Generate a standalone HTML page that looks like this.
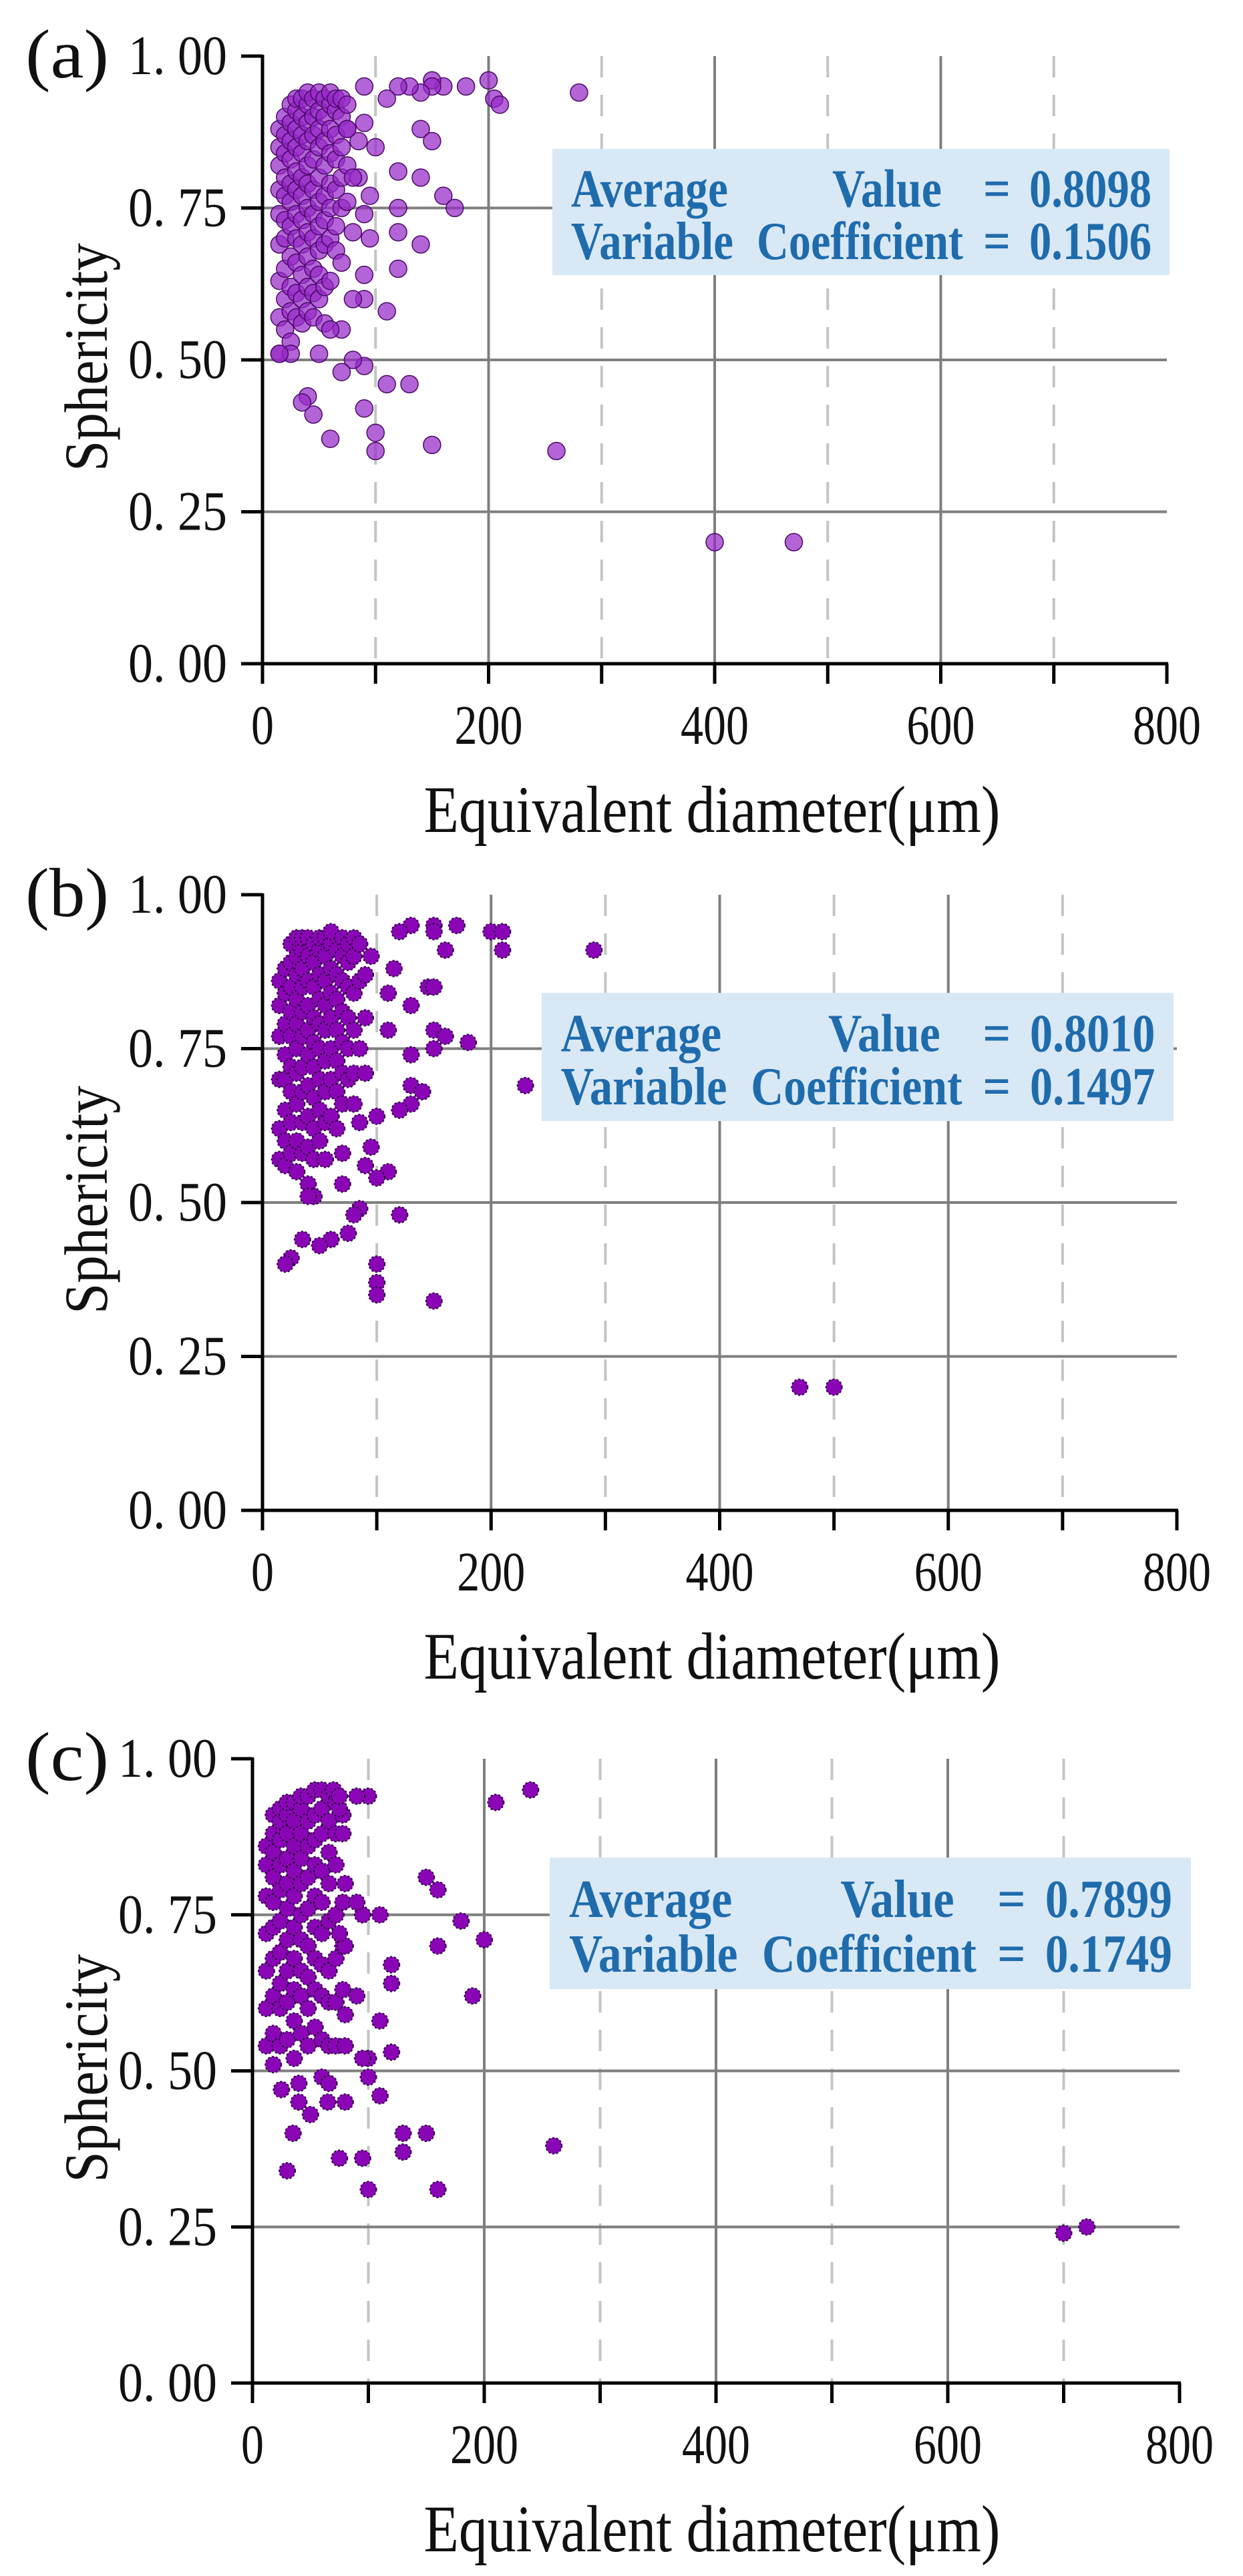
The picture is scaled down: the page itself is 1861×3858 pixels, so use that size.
<!DOCTYPE html>
<html><head><meta charset="utf-8"><title>Sphericity vs Equivalent diameter</title>
<style>html,body{margin:0;padding:0;background:#fff}svg{display:block}</style></head>
<body>
<svg id="fig" xmlns="http://www.w3.org/2000/svg" width="1861" height="3858" viewBox="0 0 1861 3858">
<rect width="1861" height="3858" fill="#fff"/>
</svg>
<script>
// ---------- data ----------
const xTicks = [0, 200, 400, 600, 800];
const xMinor = [100, 300, 500, 700];
const yTicks = [0, 0.25, 0.5, 0.75, 1.0];
const yTickLabels = ["0. 00", "0. 25", "0. 50", "0. 75", "1. 00"];
const panelLetters = ["(a)", "(b)", "(c)"];
const avgValues = ["0.8098", "0.8010", "0.7899"];
const cvValues = ["0.1506", "0.1497", "0.1749"];

const clusterXA = [15,20,25,30,35,40,45,50,55,60,65,70,75];
const clusterYA = [
 [0.51,0.57,0.63,0.69,0.74,0.78,0.82,0.85,0.88],
 [0.55,0.60,0.65,0.70,0.73,0.77,0.80,0.84,0.87,0.90],
 [0.53,0.58,0.62,0.67,0.72,0.76,0.79,0.83,0.86,0.89,0.92],
 [0.57,0.61,0.66,0.70,0.74,0.78,0.81,0.85,0.88,0.91,0.93],
 [0.56,0.60,0.64,0.69,0.73,0.77,0.80,0.84,0.87,0.90,0.93],
 [0.58,0.62,0.67,0.71,0.75,0.79,0.82,0.86,0.89,0.92,0.94],
 [0.57,0.61,0.65,0.70,0.74,0.78,0.83,0.87,0.90,0.93],
 [0.60,0.64,0.68,0.72,0.76,0.80,0.85,0.88,0.91,0.94],
 [0.56,0.62,0.69,0.73,0.77,0.82,0.86,0.90,0.93],
 [0.63,0.70,0.75,0.79,0.84,0.88,0.92,0.94],
 [0.68,0.72,0.78,0.83,0.87,0.91,0.93],
 [0.75,0.80,0.85,0.90,0.93],
 [0.82,0.88,0.92]
];
const outXA = [280,260,400,470,200,205,210,180,160,150,150,140,130,120,110,90,140,150,100,120,140,160,170,120,120,140,120,110,110,130,90,100,100,150,60,45,40,35,90,80,70,50,25,15,90,80,90,70,60,70,90,85,80,95,95,80,75,85,75,90];
const outYA = [0.94,0.35,0.20,0.20,0.96,0.93,0.92,0.95,0.95,0.96,0.95,0.94,0.95,0.95,0.93,0.95,0.88,0.86,0.85,0.81,0.80,0.77,0.75,0.75,0.71,0.69,0.65,0.58,0.46,0.46,0.42,0.38,0.35,0.36,0.37,0.41,0.44,0.43,0.49,0.50,0.48,0.51,0.51,0.51,0.60,0.60,0.64,0.55,0.55,0.66,0.74,0.80,0.80,0.77,0.70,0.71,0.76,0.86,0.88,0.89];

const clusterXB = [15,20,25,30,35,40,45,50,55,60,65,70,75,80,85];
const clusterYB = [
 [0.57,0.62,0.70,0.77,0.82,0.86],
 [0.56,0.60,0.65,0.70,0.74,0.79,0.84,0.88],
 [0.58,0.63,0.68,0.72,0.77,0.81,0.85,0.89,0.92],
 [0.55,0.60,0.66,0.71,0.75,0.79,0.83,0.87,0.90,0.93],
 [0.58,0.63,0.68,0.72,0.77,0.81,0.85,0.88,0.91,0.93],
 [0.53,0.59,0.64,0.69,0.74,0.78,0.82,0.86,0.90,0.93],
 [0.51,0.57,0.62,0.67,0.72,0.76,0.80,0.85,0.89,0.92],
 [0.60,0.65,0.70,0.75,0.79,0.83,0.87,0.91,0.93],
 [0.57,0.63,0.68,0.73,0.78,0.82,0.86,0.90,0.93],
 [0.64,0.70,0.75,0.80,0.84,0.88,0.92,0.94],
 [0.62,0.68,0.73,0.78,0.83,0.87,0.91],
 [0.66,0.71,0.76,0.81,0.86,0.90,0.93],
 [0.70,0.75,0.80,0.85,0.89,0.92],
 [0.71,0.78,0.84,0.90,0.93],
 [0.75,0.86,0.92]
];
const outXB = [290,230,470,500,200,210,210,170,150,150,130,120,160,115,110,145,150,130,110,150,160,180,150,130,130,140,130,120,100,110,100,95,90,120,85,80,75,60,50,35,25,20,100,100,100,150,45,40,70,70,80,85,90,90,90,95];
const outYB = [0.91,0.69,0.20,0.20,0.94,0.94,0.91,0.95,0.95,0.94,0.95,0.94,0.91,0.88,0.84,0.85,0.85,0.82,0.78,0.78,0.77,0.76,0.75,0.74,0.69,0.68,0.66,0.65,0.64,0.55,0.54,0.59,0.56,0.48,0.49,0.48,0.45,0.44,0.43,0.44,0.41,0.40,0.40,0.37,0.35,0.34,0.51,0.51,0.53,0.58,0.66,0.63,0.71,0.80,0.87,0.90];

const clusterXC = [12,18,24,30,36,42,48,54,60,66,72,78];
const clusterYC = [
 [0.54,0.60,0.66,0.72,0.78,0.83,0.86],
 [0.51,0.56,0.62,0.68,0.73,0.77,0.81,0.85,0.88,0.91],
 [0.54,0.60,0.64,0.69,0.74,0.79,0.83,0.87,0.90,0.92],
 [0.55,0.61,0.66,0.71,0.76,0.80,0.84,0.88,0.91,0.93],
 [0.52,0.58,0.63,0.68,0.73,0.78,0.82,0.86,0.90,0.93],
 [0.56,0.62,0.66,0.71,0.75,0.80,0.84,0.88,0.92,0.94],
 [0.54,0.60,0.65,0.70,0.76,0.81,0.86,0.90,0.94],
 [0.57,0.63,0.68,0.73,0.78,0.83,0.87,0.91,0.95],
 [0.49,0.55,0.62,0.67,0.72,0.77,0.82,0.88,0.92,0.95],
 [0.48,0.54,0.61,0.66,0.74,0.80,0.85,0.90,0.94],
 [0.54,0.61,0.68,0.75,0.83,0.88,0.93],
 [0.63,0.70,0.77,0.88,0.91]
];
const outXC = [240,210,150,160,180,200,160,190,260,700,720,100,90,110,95,90,80,120,120,110,120,100,95,110,100,80,65,50,40,40,25,35,30,75,95,130,150,130,100,160,80,80,90,80,75,75,70,75];
const outYC = [0.95,0.93,0.81,0.79,0.74,0.71,0.70,0.62,0.38,0.24,0.25,0.94,0.94,0.75,0.75,0.77,0.80,0.67,0.64,0.58,0.53,0.52,0.52,0.46,0.49,0.45,0.45,0.43,0.45,0.48,0.47,0.40,0.34,0.36,0.36,0.40,0.40,0.37,0.31,0.31,0.54,0.59,0.62,0.70,0.72,0.92,0.95,0.94];

// ---------- layout ----------
const panels = [
 {x0:393, x1:1747, yTop:84, yBot:994, box:[827,223,1751,412], solid:false, cx:clusterXA, cy:clusterYA, ox:outXA, oy:outYA},
 {x0:393, x1:1762, yTop:1340, yBot:2262, box:[811,1487,1757,1679], solid:true, cx:clusterXB, cy:clusterYB, ox:outXB, oy:outYB},
 {x0:378, x1:1766, yTop:2634, yBot:3569, box:[823,2782,1783,2979], solid:true, cx:clusterXC, cy:clusterYC, ox:outXC, oy:outYC}
];
const NS = "http://www.w3.org/2000/svg";
const svg = document.getElementById("fig");
function mk(tag, attrs, parent){
  const e = document.createElementNS(NS, tag);
  for (const k in attrs) e.setAttribute(k, attrs[k]);
  (parent||svg).appendChild(e);
  return e;
}

panels.forEach((p, i) => {
  const g = mk("g", {});
  
  
  const sx = v => p.x0 + (v/800)*(p.x1-p.x0);
  const sy = v => p.yBot - v*(p.yBot-p.yTop);

  xMinor.forEach(v => {
    const l = mk("line", {x1:sx(v), x2:sx(v), y1:p.yTop, y2:p.yBot, stroke:"#c4c4c4", "stroke-width":4, "stroke-dasharray":"32,26"}, g);
    
    
  });
  xTicks.slice(1,4).forEach(v => {
    const l = mk("line", {x1:sx(v), x2:sx(v), y1:p.yTop, y2:p.yBot, stroke:"#7f7f7f", "stroke-width":4}, g);
    
    
  });
  yTicks.slice(1,4).forEach(v => {
    const l = mk("line", {x1:p.x0, x2:p.x1, y1:sy(v), y2:sy(v), stroke:"#7f7f7f", "stroke-width":4}, g);
    
    
  });

  const [bx0, by0, bx1, by1] = p.box;
  const bw = bx1 - bx0, bh = by1 - by0;
  const box = mk("g", {}, g);
  
  
  mk("rect", {x:bx0, y:by0, width:bw, height:bh, fill:"#d9e8f5"}, box);
  const k = bw/924;
  const fs = 80;
  const tstyle = {fill:"#1f6cad", "font-family":"'Liberation Serif', serif", "font-weight":"bold", "font-size":fs, lengthAdjust:"spacingAndGlyphs"};
  const l1 = by0 + bh*0.315 + 27, l2 = by0 + bh*0.73 + 27;
  const words = [
    ["Average", 28, 235, l1, 'average-label'], ["Value", 419, 164, l1, 'value-label'], ["=", 645, 41, l1, 'equals-sign'], [avgValues[i], 714, 183, l1, 'average-value'],
    ["Variable", 28, 243, l2, 'variable-label'], ["Coefficient", 306, 309, l2, 'coefficient-label'], ["=", 645, 41, l2, 'equals-sign'], [cvValues[i], 714, 183, l2, 'coefficient-value']
  ];
  words.forEach(w => {
    const t = mk("text", Object.assign({x:bx0 + w[1]*k, y:w[3], textLength:w[2]*k}, tstyle), box);
    t.textContent = w[0];
    
    
  });

  const pts = mk("g", {}, g);
  
  
  const dot = (x, y) => {
    const c = p.solid
      ? mk("circle", {cx:sx(x), cy:sy(y), r:12, fill:"#8a05b5", stroke:"#2a0040", "stroke-width":2, "stroke-dasharray":"3,3"}, pts)
      : mk("circle", {cx:sx(x), cy:sy(y), r:13, fill:"rgba(150,40,200,0.72)", stroke:"#4a0a66", "stroke-width":1.5}, pts);
    
    
  };
  p.cx.forEach((x, j) => p.cy[j].forEach(y => dot(x, y)));
  p.ox.forEach((x, j) => dot(x, p.oy[j]));

  const ax = mk("g", {stroke:"#000", "stroke-width":5, fill:"none"}, g);
  
  
  mk("line", {x1:p.x0, x2:p.x0, y1:p.yTop-2, y2:p.yBot+2}, ax);
  mk("line", {x1:p.x0-2, x2:p.x1+2, y1:p.yBot, y2:p.yBot}, ax);
  yTicks.forEach(v => mk("line", {x1:p.x0-32, x2:p.x0, y1:sy(v), y2:sy(v)}, ax));
  xTicks.concat(xMinor).forEach(v => mk("line", {x1:sx(v), x2:sx(v), y1:p.yBot, y2:p.yBot+30}, ax));

  const lab = {fill:"#111", "font-family":"'Liberation Serif', serif", "font-size":84, lengthAdjust:"spacingAndGlyphs"};
  yTicks.forEach((v, j) => {
    const t = mk("text", Object.assign({x:p.x0-53, y:sy(v)+27, "text-anchor":"end", textLength:148}, lab), g);
    t.textContent = yTickLabels[j];
    
    
  });
  xTicks.forEach(v => {
    const s = String(v);
    const t = mk("text", Object.assign({x:sx(v), y:p.yBot+120, "text-anchor":"middle", textLength:s.length*34}, lab), g);
    t.textContent = s;
    
    
  });
  const xl = mk("text", Object.assign({}, lab, {x:1066, y:p.yBot+252, "text-anchor":"middle", "font-size":100, textLength:863}), g);
  xl.textContent = "Equivalent diameter(μm)";
  
  
  const ycy = (p.yTop + p.yBot)/2 - 4;
  const yl = mk("text", Object.assign({}, lab, {x:0, y:0, "text-anchor":"middle", "font-size":92, textLength:342, transform:`translate(160 ${ycy}) rotate(-90)`}), g);
  yl.textContent = "Sphericity";
  
  
  const pl = mk("text", Object.assign({}, lab, {x:38, y:p.yTop+32, "font-size":104, textLength:125}), g);
  pl.textContent = panelLetters[i];
  
  
});
</script>
</body></html>
